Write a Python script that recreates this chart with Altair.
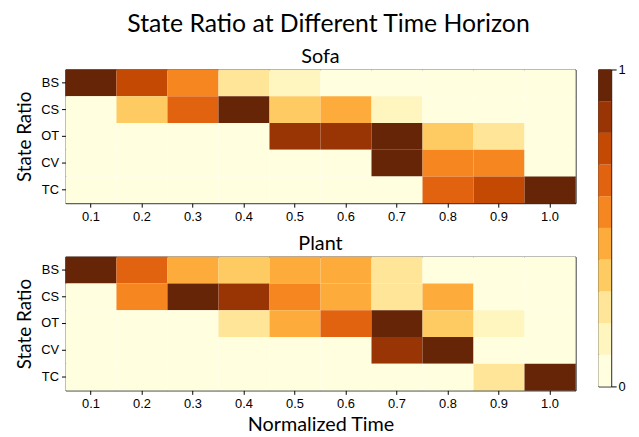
import altair as alt
import pandas as pd

times = ["0.1", "0.2", "0.3", "0.4", "0.5", "0.6", "0.7", "0.8", "0.9", "1.0"]
states = ["BS", "CS", "OT", "CV", "TC"]

# Sofa ratios
sofa_BS = [0.95, 0.75, 0.55, 0.25, 0.15, 0.0, 0.0, 0.0, 0.0, 0.0]
sofa_CS = [0.0, 0.35, 0.65, 0.95, 0.35, 0.45, 0.15, 0.0, 0.0, 0.0]
sofa_OT = [0.0, 0.0, 0.0, 0.0, 0.85, 0.85, 0.95, 0.35, 0.25, 0.0]
sofa_CV = [0.0, 0.0, 0.0, 0.0, 0.0, 0.0, 0.95, 0.55, 0.55, 0.0]
sofa_TC = [0.0, 0.0, 0.0, 0.0, 0.0, 0.0, 0.0, 0.65, 0.75, 0.95]

# Plant ratios
plant_BS = [0.95, 0.65, 0.45, 0.35, 0.45, 0.45, 0.25, 0.0, 0.0, 0.0]
plant_CS = [0.0, 0.55, 0.95, 0.85, 0.55, 0.45, 0.25, 0.45, 0.0, 0.0]
plant_OT = [0.0, 0.0, 0.0, 0.25, 0.45, 0.65, 0.95, 0.35, 0.15, 0.0]
plant_CV = [0.0, 0.0, 0.0, 0.0, 0.0, 0.0, 0.85, 0.95, 0.0, 0.0]
plant_TC = [0.0, 0.0, 0.0, 0.0, 0.0, 0.0, 0.0, 0.0, 0.25, 0.95]

colors = ["#ffffe0", "#fff5be", "#fee597", "#fecb62", "#fdac3b",
          "#f68620", "#e2630f", "#c44a03", "#993404", "#662506"]

cbar_lo = [0.0, 0.1, 0.2, 0.3, 0.4, 0.5, 0.6, 0.7, 0.8, 0.9]
cbar_hi = [0.1, 0.2, 0.3, 0.4, 0.5, 0.6, 0.7, 0.8, 0.9, 1.0]
cbar_mid = [0.05, 0.15, 0.25, 0.35, 0.45, 0.55, 0.65, 0.75, 0.85, 0.95]


def make_df(rows):
    recs = []
    for s, vals in zip(states, rows):
        for t, v in zip(times, vals):
            recs.append({"time": t, "state": s, "value": v})
    return pd.DataFrame(recs)


sofa_df = make_df([sofa_BS, sofa_CS, sofa_OT, sofa_CV, sofa_TC])
plant_df = make_df([plant_BS, plant_CS, plant_OT, plant_CV, plant_TC])

color_scale = alt.Scale(type="quantize", domain=[0, 1], range=colors)
TFONT = "Lato"
LFONT = "Liberation Sans"
SUB = 20


def heat(df, name, bottom):
    xaxis = dict(labelAngle=0, labelFont=LFONT, labelFontSize=13, labelColor="black",
                 tickColor="black", tickSize=4, domain=False, labelPadding=3)
    if bottom:
        xaxis.update(title="Normalized Time", titleFont=TFONT, titleFontSize=20,
                     titleFontWeight="normal", titleColor="black", titlePadding=5)
    else:
        xaxis.update(title="")
    return alt.Chart(df, title=alt.TitleParams(name, font=TFONT, fontSize=SUB,
                                               fontWeight="normal", color="black", offset=3)).mark_rect().encode(
        x=alt.X("time:O", sort=times, axis=alt.Axis(**xaxis)),
        y=alt.Y("state:O", sort=states,
                axis=alt.Axis(title="State Ratio", titleFont=TFONT, titleFontSize=19,
                              titleFontWeight="normal", titleColor="black", titlePadding=6,
                              labelFont=LFONT, labelFontSize=13, labelColor="black",
                              tickColor="black", tickSize=4, domain=False, labelPadding=3)),
        color=alt.Color("value:Q", scale=color_scale, legend=None),
    ).properties(width=515, height=135)


top = heat(sofa_df, "Sofa", False)
bottom = heat(plant_df, "Plant", True)

cbar_df = pd.DataFrame({"lo": cbar_lo, "hi": cbar_hi, "value": cbar_mid})
cbar = alt.Chart(cbar_df, title=alt.TitleParams(" ", font=TFONT, fontSize=SUB, offset=3)).mark_rect().encode(
    x=alt.value(0), x2=alt.value(13),
    y=alt.Y("lo:Q", scale=alt.Scale(domain=[0, 1], nice=False),
            axis=alt.Axis(orient="right", values=[0, 1], format="d", title=None, grid=False,
                          labelFont=LFONT, labelFontSize=13, labelColor="black",
                          tickColor="black", tickSize=5, domain=False, labelPadding=2)),
    y2="hi:Q",
    color=alt.Color("value:Q", scale=color_scale, legend=None),
).properties(width=13, height=320)

chart = alt.hconcat(
    alt.vconcat(top, bottom, spacing=9),
    cbar, spacing=21,
).properties(
    title=alt.TitleParams("State Ratio at Different Time Horizon", font=TFONT, fontSize=25,
                          fontWeight="normal", color="black", anchor="middle", offset=3, dx=8),
    padding={"left": 7, "top": 2, "right": 5, "bottom": 0},
).configure_view(stroke="black", strokeWidth=1)

chart.save("out.html", embed_options={"renderer": "svg", "actions": False})
